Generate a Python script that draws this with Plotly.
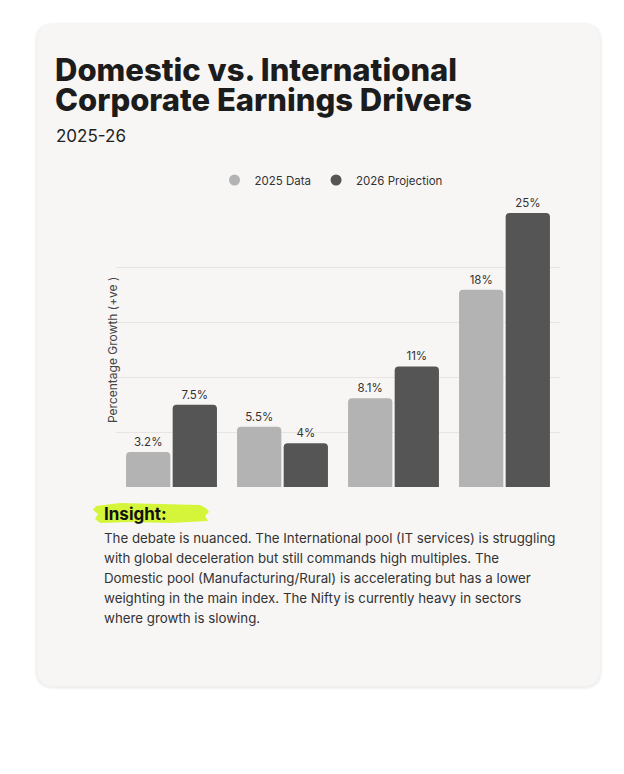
import plotly.graph_objects as go

W, H = 624, 774
OFF = 8  # page body margin offset

categories = ["Domestic A", "Domestic B", "International A", "International B"]
series_names = ["2025 Data", "2026 Projection"]
values_2025 = [3.2, 5.5, 8.1, 18]
values_2026 = [7.5, 4, 11, 25]
series_colors = ["#b3b3b3", "#555555"]

title_lines = ["Domestic vs. International", "Corporate Earnings Drivers"]
subtitle = "2025-26"
y_title = "Percentage Growth (+ve )"
insight_head = "Insight:"
insight_lines = [
    "The debate is nuanced. The International pool (IT services) is struggling",
    "with global deceleration but still commands high multiples. The",
    "Domestic pool (Manufacturing/Rural) is accelerating but has a lower",
    "weighting in the main index. The Nifty is currently heavy in sectors",
    "where growth is slowing.",
]

FONT = "Inter"


def px(x):
    return (x - OFF) / W


def py(y):
    return 1 - (y - OFF) / H


def rounded_rect(x0, y0, x1, y1, r):
    rx, ry = r / W, r / H
    X0, X1 = px(x0), px(x1)
    Y0, Y1 = py(y0), py(y1)
    return (
        f"M {X0+rx},{Y0} L {X1-rx},{Y0} Q {X1},{Y0} {X1},{Y0-ry} "
        f"L {X1},{Y1+ry} Q {X1},{Y1} {X1-rx},{Y1} "
        f"L {X0+rx},{Y1} Q {X0},{Y1} {X0},{Y1+ry} "
        f"L {X0},{Y0-ry} Q {X0},{Y0} {X0+rx},{Y0} Z"
    )


fig = go.Figure()

for name, vals, col in zip(series_names, [values_2025, values_2026], series_colors):
    fig.add_trace(go.Bar(
        x=categories, y=vals, name=name,
        marker=dict(color=col, line=dict(width=0)),
        text=[f"{v:g}%" for v in vals],
        textposition="outside",
        textfont=dict(family=FONT, size=11.5, color="#333333"),
        cliponaxis=False,
        showlegend=False,
        hoverinfo="skip",
    ))
    fig.add_trace(go.Scatter(
        x=[None], y=[None], mode="markers", name=name,
        marker=dict(symbol="circle", size=11, color=col),
        showlegend=True,
    ))

shapes = []
for i, a in enumerate([0.025, 0.02, 0.015]):
    shapes.append(dict(type="path", xref="paper", yref="paper", layer="below",
                       path=rounded_rect(37 - i - 1, 24 - i, 600 + i + 1, 686 + i + 2, 18 + i),
                       fillcolor=f"rgba(0,0,0,{a})", line=dict(width=0)))
shapes.append(dict(type="path", xref="paper", yref="paper", layer="below",
                   path=rounded_rect(37, 24, 600, 686, 18),
                   fillcolor="#f8f6f5", line=dict(width=0)))

brush = [(96, 506), (120, 503), (160, 504), (200, 505), (206, 508), (209, 512),
         (205, 516), (208, 521), (170, 523), (130, 522), (100, 523), (95, 519),
         (98, 514), (93, 510)]
bp = "M " + " L ".join(f"{px(x)},{py(y)}" for x, y in brush) + " Z"
shapes.append(dict(type="path", xref="paper", yref="paper", layer="below",
                   path=bp, fillcolor="#d5f53a", line=dict(width=0)))

annotations = []
for i, t in enumerate(title_lines):
    annotations.append(dict(text=t, x=px(53), y=py(70 + i * 29), xref="paper", yref="paper",
                            xanchor="left", yanchor="middle", showarrow=False,
                            font=dict(family=FONT, size=31, color="#1c1c1c", weight=800)))
annotations.append(dict(text=subtitle, x=px(54), y=py(136), xref="paper", yref="paper",
                        xanchor="left", yanchor="middle", showarrow=False,
                        font=dict(family=FONT, size=17, color="#222222")))
annotations.append(dict(text=y_title, x=px(112), y=py(350), xref="paper", yref="paper",
                        xanchor="center", yanchor="middle", textangle=-90, showarrow=False,
                        font=dict(family=FONT, size=12, color="#444444")))
annotations.append(dict(text=insight_head, x=px(102), y=py(514), xref="paper", yref="paper",
                        xanchor="left", yanchor="middle", showarrow=False,
                        font=dict(family=FONT, size=17, color="#111111", weight=700)))
for i, t in enumerate(insight_lines):
    annotations.append(dict(text=t, x=px(102), y=py(538 + i * 20), xref="paper", yref="paper",
                            xanchor="left", yanchor="middle", showarrow=False,
                            font=dict(family=FONT, size=13.3, color="#333333")))

fig.update_layout(
    width=W, height=H,
    margin=dict(l=0, r=0, t=0, b=0),
    paper_bgcolor="#ffffff",
    plot_bgcolor="rgba(0,0,0,0)",
    barmode="group",
    bargap=0.16,
    bargroupgap=0.05,
    barcornerradius=4,
    shapes=shapes,
    annotations=annotations,
    legend=dict(orientation="h", x=px(331), y=py(180), xanchor="center", yanchor="middle",
                font=dict(family=FONT, size=11.5, color="#333333"),
                bgcolor="rgba(0,0,0,0)", itemwidth=30),
    xaxis=dict(domain=[px(116), px(560)], showticklabels=False, showgrid=False,
               zeroline=False, showline=False, ticks=""),
    yaxis=dict(domain=[py(487), py(213)], range=[0, 25], dtick=5, showticklabels=False,
               showgrid=True, gridcolor="#e7e5e4", gridwidth=1, zeroline=False,
               showline=False, ticks=""),
    font=dict(family=FONT),
)

fig.write_html("out.html")
